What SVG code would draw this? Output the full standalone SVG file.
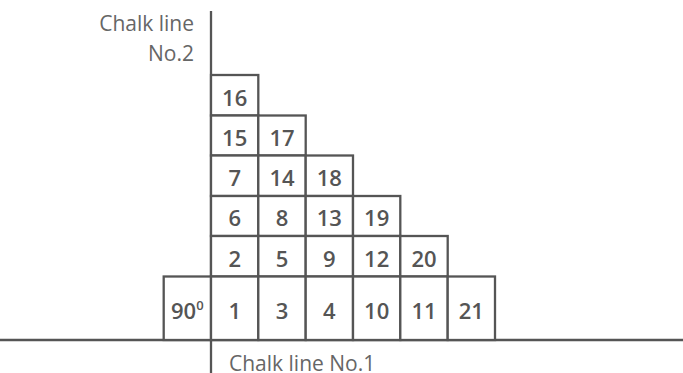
<svg xmlns="http://www.w3.org/2000/svg" width="683" height="373" viewBox="0 0 683 373">
<style>
.cell{fill:#fff;stroke:#555;stroke-width:2.3}
.line{stroke:#555;stroke-width:2.3;fill:none}
.num{font-family:"Open Sans","Liberation Sans",sans-serif;font-size:22px;font-weight:600;fill:#555;text-anchor:middle}
.lbl{font-family:"Open Sans","Liberation Sans",sans-serif;font-size:21px;font-weight:400;fill:#666}
</style>
<rect width="683" height="373" fill="#fff"/>
<g id="connectors">
<line class="line" x1="0" y1="340" x2="683" y2="340"/>
<line class="line" x1="211" y1="11" x2="211" y2="373"/>
</g>
<g id="labels">
<text class="lbl" x="194" y="30.5" text-anchor="end">Chalk line</text>
<text class="lbl" x="194" y="60.5" text-anchor="end">No.2</text>
<text class="lbl" x="229" y="370.5">Chalk line No.1</text>
</g>
<g id="n16"><rect class="cell" x="211" y="75" width="47.3" height="40.5"/><text class="num" x="234.7" y="105.5">16</text></g>
<g id="n15"><rect class="cell" x="211" y="115.5" width="47.3" height="40"/><text class="num" x="234.7" y="145.5">15</text></g>
<g id="n17"><rect class="cell" x="258.3" y="115.5" width="47.4" height="40"/><text class="num" x="282" y="145.5">17</text></g>
<g id="n7"><rect class="cell" x="211" y="155.5" width="47.3" height="40.5"/><text class="num" x="234.7" y="186">7</text></g>
<g id="n14"><rect class="cell" x="258.3" y="155.5" width="47.4" height="40.5"/><text class="num" x="282" y="186">14</text></g>
<g id="n18"><rect class="cell" x="305.7" y="155.5" width="47.3" height="40.5"/><text class="num" x="329.3" y="186">18</text></g>
<g id="n6"><rect class="cell" x="211" y="196" width="47.3" height="40"/><text class="num" x="234.7" y="226">6</text></g>
<g id="n8"><rect class="cell" x="258.3" y="196" width="47.4" height="40"/><text class="num" x="282" y="226">8</text></g>
<g id="n13"><rect class="cell" x="305.7" y="196" width="47.3" height="40"/><text class="num" x="329.3" y="226">13</text></g>
<g id="n19"><rect class="cell" x="353" y="196" width="47.3" height="40"/><text class="num" x="376.7" y="226">19</text></g>
<g id="n2"><rect class="cell" x="211" y="236" width="47.3" height="40.5"/><text class="num" x="234.7" y="266.5">2</text></g>
<g id="n5"><rect class="cell" x="258.3" y="236" width="47.4" height="40.5"/><text class="num" x="282" y="266.5">5</text></g>
<g id="n9"><rect class="cell" x="305.7" y="236" width="47.3" height="40.5"/><text class="num" x="329.3" y="266.5">9</text></g>
<g id="n12"><rect class="cell" x="353" y="236" width="47.3" height="40.5"/><text class="num" x="376.7" y="266.5">12</text></g>
<g id="n20"><rect class="cell" x="400.3" y="236" width="47.4" height="40.5"/><text class="num" x="424" y="266.5">20</text></g>
<g id="n90"><rect class="cell" x="163.7" y="276.5" width="47.3" height="63.5"/><text class="num" x="187.3" y="319">90<tspan font-size="13" dy="-9">0</tspan></text></g>
<g id="n1"><rect class="cell" x="211" y="276.5" width="47.3" height="63.5"/><text class="num" x="234.7" y="319">1</text></g>
<g id="n3"><rect class="cell" x="258.3" y="276.5" width="47.4" height="63.5"/><text class="num" x="282" y="319">3</text></g>
<g id="n4"><rect class="cell" x="305.7" y="276.5" width="47.3" height="63.5"/><text class="num" x="329.3" y="319">4</text></g>
<g id="n10"><rect class="cell" x="353" y="276.5" width="47.3" height="63.5"/><text class="num" x="376.7" y="319">10</text></g>
<g id="n11"><rect class="cell" x="400.3" y="276.5" width="47.4" height="63.5"/><text class="num" x="424" y="319">11</text></g>
<g id="n21"><rect class="cell" x="447.7" y="276.5" width="47.3" height="63.5"/><text class="num" x="471.3" y="319">21</text></g>
</svg>
